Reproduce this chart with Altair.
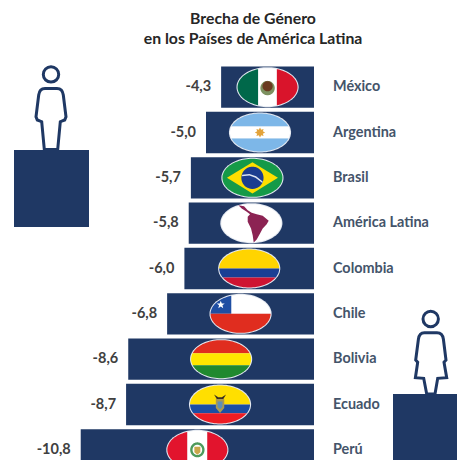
import math
import altair as alt
import pandas as pd

# ---- data ----
paises = ["México", "Argentina", "Brasil", "América Latina", "Colombia",
          "Chile", "Bolivia", "Ecuador", "Perú"]
valores = [-4.3, -5.0, -5.7, -5.8, -6.0, -6.8, -8.6, -8.7, -10.8]
etiquetas = ["-4,3", "-5,0", "-5,7", "-5,8", "-6,0", "-6,8", "-8,6", "-8,7", "-10,8"]
titulo = ["Brecha de Género", "en los Países de América Latina"]

AZUL = "#1f3864"

# ---- flag shapes: symbol paths in flag units (1 unit = half the flag width) ----
B = 0.633


def ellipse(a=1.0, b=B, cx=0.0, cy=0.0, n=96):
    return [(cx + a * math.cos(2 * math.pi * i / n), cy + b * math.sin(2 * math.pi * i / n)) for i in range(n)]


def clip(poly, x0=-9, x1=9, y0=-9, y1=9):
    def cut(pts, inside, inter):
        out = []
        for i, p in enumerate(pts):
            q = pts[(i + 1) % len(pts)]
            if inside(p):
                out.append(p)
            if inside(p) != inside(q):
                out.append(inter(p, q))
        return out

    def ix(v):
        return lambda p, q: (v, p[1] + (q[1] - p[1]) * (v - p[0]) / (q[0] - p[0]))

    def iy(v):
        return lambda p, q: (p[0] + (q[0] - p[0]) * (v - p[1]) / (q[1] - p[1]), v)

    poly = cut(poly, lambda p: p[0] >= x0, ix(x0))
    poly = cut(poly, lambda p: p[0] <= x1, ix(x1))
    poly = cut(poly, lambda p: p[1] >= y0, iy(y0))
    poly = cut(poly, lambda p: p[1] <= y1, iy(y1))
    return poly


def path(poly):
    return "M" + "L".join(f"{x:.3f},{y:.3f}" for x, y in poly) + "Z"


def star(cx, cy, r, k=5, ratio=0.42):
    pts = []
    for i in range(2 * k):
        rr = r if i % 2 == 0 else r * ratio
        t = -math.pi / 2 + math.pi * i / k
        pts.append((cx + rr * math.cos(t), cy + rr * math.sin(t)))
    return pts


def band(color, **kw):
    return (path(clip(ellipse(), **kw)), color)


def shape(pts, color):
    return (path(pts), color)


def scaled(pts):
    return [((x - 114) / 90, (y - 69) / 90) for x, y in pts]


mapa = scaled([(75, 15), (92, 18), (103, 30), (115, 38), (130, 42), (148, 47), (166, 62),
               (160, 72), (148, 85), (140, 100), (130, 118), (121, 127), (118, 105),
               (113, 85), (103, 65), (103, 50), (110, 42), (98, 33), (85, 25)])

banda_br = [(-0.34, -0.1), (-0.1, -0.13), (0.12, -0.05), (0.34, 0.12),
            (0.33, 0.17), (0.1, 0.0), (-0.1, -0.08), (-0.35, -0.05)]

capas = {
    "México": [
        band("#00684a", x1=-0.31), band("#ffffff", x0=-0.31, x1=0.31), band("#d9142b", x0=0.31),
        shape(ellipse(0.24, 0.24, 0, 0.03), "#7d9160"),
        shape(ellipse(0.17, 0.17, 0, -0.03), "#6a3a20"),
    ],
    "Argentina": [
        band("#7db7e8", y1=-0.2), band("#ffffff", y0=-0.2, y1=0.2), band("#7db7e8", y0=0.2),
        shape(star(0, 0, 0.17, 8, 0.6), "#e3a33a"),
    ],
    "Brasil": [
        band("#159a48"),
        shape([(-0.85, 0), (0, -0.52), (0.85, 0), (0, 0.52)], "#fedf00"),
        shape(ellipse(0.37, 0.37), "#1c3d8f"),
        shape(banda_br, "#dfe6f2"),
    ],
    "América Latina": [
        band("#ffffff"),
        shape(mapa, "#8c2353"),
    ],
    "Colombia": [
        band("#ffd400", y1=0.0), band("#1a3f94", y0=0.0, y1=0.3), band("#ce1432", y0=0.3),
    ],
    "Chile": [
        band("#ffffff", x0=-0.31, y1=0.0), band("#1f4ea3", x1=-0.31, y1=0.0), band("#e02d1f", y0=0.0),
        shape(star(-0.66, -0.3, 0.14), "#ffffff"),
    ],
    "Bolivia": [
        band("#e02d1f", y1=-0.2), band("#ffe600", y0=-0.2, y1=0.2), band("#20892f", y0=0.2),
    ],
    "Ecuador": [
        band("#ffdf00", y1=0.0), band("#1b4ea3", y0=0.0, y1=0.29), band("#ed1c24", y0=0.29),
        shape([(-0.2, -0.33), (-0.06, -0.24), (0.06, -0.24), (0.2, -0.33), (0.1, -0.17), (-0.1, -0.17)], "#3a2f22"),
        shape([(-0.14, -0.18), (0.14, -0.18), (0.14, 0.12), (0, 0.28), (-0.14, 0.12)], "#a99a52"),
        shape([(-0.08, -0.1), (0.08, -0.1), (0.08, 0.08), (0, 0.16), (-0.08, 0.08)], "#5f8fb5"),
    ],
    "Perú": [
        band("#e2142d", x1=-0.33), band("#ffffff", x0=-0.33, x1=0.33), band("#e2142d", x0=0.33),
        shape(ellipse(0.24, 0.25), "#4e9a5b"),
        shape(ellipse(0.16, 0.17), "#ffffff"),
        shape([(-0.1, -0.1), (0.1, -0.1), (0.1, 0.08), (0, 0.16), (-0.1, 0.08)], "#c9a74a"),
    ],
}

filas_bandera = []
for pais, valor in zip(paises, valores):
    centro = valor / 2
    filas_bandera.append({"pais": pais, "centro": centro, "forma": path(ellipse(1.035, B + 0.035)), "tono": "#e4e9f1"})
    for forma, tono in capas[pais]:
        filas_bandera.append({"pais": pais, "centro": centro, "forma": forma, "tono": tono})

barras = pd.DataFrame({"pais": paises, "valor": valores, "etiqueta": etiquetas})
banderas = pd.DataFrame(filas_bandera)

# ---- figures (paths in pixels, symbol size 4 = scale 1) ----
hombre = ("M-6.7,32.7L-9.3,5L-13.7,3.3L-15,0L-12.3,-21.7Q-11.5,-28.3 -6,-28.3L6,-28.3"
          "Q11.5,-28.3 12.3,-21.7L15,0L13.7,3.3L9.3,5L6.7,32.7Z"
          "M7.7,-42.3A7.7,7.7 0 1 1 -7.7,-42.3A7.7,7.7 0 1 1 7.7,-42.3Z")
mujer = ("M-4,34L-7,18.3L-15.3,17.7L-13,2.3L-15,0L-12.3,-20.7Q-11.5,-27.3 -6.3,-27.3L6.3,-27.3"
         "Q11.9,-27.3 12.7,-20.7L15.3,0L13.3,2.3L16,17.7L7,18.3L4.3,34Z"
         "M7.7,-41A7.7,7.7 0 1 1 -7.7,-41A7.7,7.7 0 1 1 7.7,-41Z")

# ---- scales ----
PX_POR_UNIDAD = 21.6
x_esc = alt.Scale(domain=[-306 / PX_POR_UNIDAD, 143 / PX_POR_UNIDAD], nice=False, zero=False)
y_esc = alt.Scale(domain=paises, range=[0.5, 408.5], paddingInner=0.09, paddingOuter=0.045)
X = alt.X("valor:Q", scale=x_esc, axis=None)
Y = alt.Y("pais:N", scale=y_esc, axis=None, sort=paises)
OX, OY = 8, 64  # page position of the plot area


def rect_pagina(x0, x1, y0, y1, color):
    return alt.Chart().mark_rect(color=color).encode(
        x=alt.value(x0 - OX), x2=alt.value(x1 - OX), y=alt.value(y0 - OY), y2=alt.value(y1 - OY))


def figura(forma, x, y):
    return alt.Chart().mark_point(shape=forma, size=4, filled=False, stroke=AZUL, strokeWidth=3, opacity=1).encode(
        x=alt.value(x - OX), y=alt.value(y - OY))


base = alt.Chart(barras)
capa_barras = base.mark_bar(color=AZUL).encode(x=X, x2=alt.datum(0), y=Y)
capa_banderas = alt.Chart(banderas).mark_point(filled=True, size=3600, opacity=1, strokeWidth=0).encode(
    x=alt.X("centro:Q", scale=x_esc, axis=None),
    y=Y,
    shape=alt.Shape("forma:N", scale=None),
    color=alt.Color("tono:N", scale=None),
)
capa_valores = base.mark_text(align="right", dx=-10, font="Lato", fontSize=14.5, fontWeight="bold", color="#404040").encode(
    x=X, y=Y, text="etiqueta:N")
capa_nombres = base.mark_text(align="left", dx=19, font="Lato", fontSize=14.4, fontWeight="bold", color="#44546a").encode(
    x=alt.datum(0, scale=x_esc), y=Y, text="pais:N")

chart = alt.layer(
    capa_barras, capa_banderas, capa_valores, capa_nombres,
    rect_pagina(380, 393, 392, 416, "#ffffff"),
    rect_pagina(14, 89, 150, 227, AZUL),
    rect_pagina(393, 457, 394, 460, AZUL),
    figura(hombre, 51, 116.7),
    figura(mujer, 430.7, 360),
).properties(
    width=449,
    height=396,
    padding={"left": 0, "right": 0, "top": 56, "bottom": 0},
    autosize=alt.AutoSizeParams(type="none"),
    title=alt.TitleParams(text=titulo, font="Lato", fontSize=15.8, fontWeight="bold", color="#262626",
                          anchor="middle", dx=20.5, offset=13, lineHeight=20),
).configure_view(stroke=None)

chart.save("out.html", embed_options={"renderer": "svg", "actions": False})
